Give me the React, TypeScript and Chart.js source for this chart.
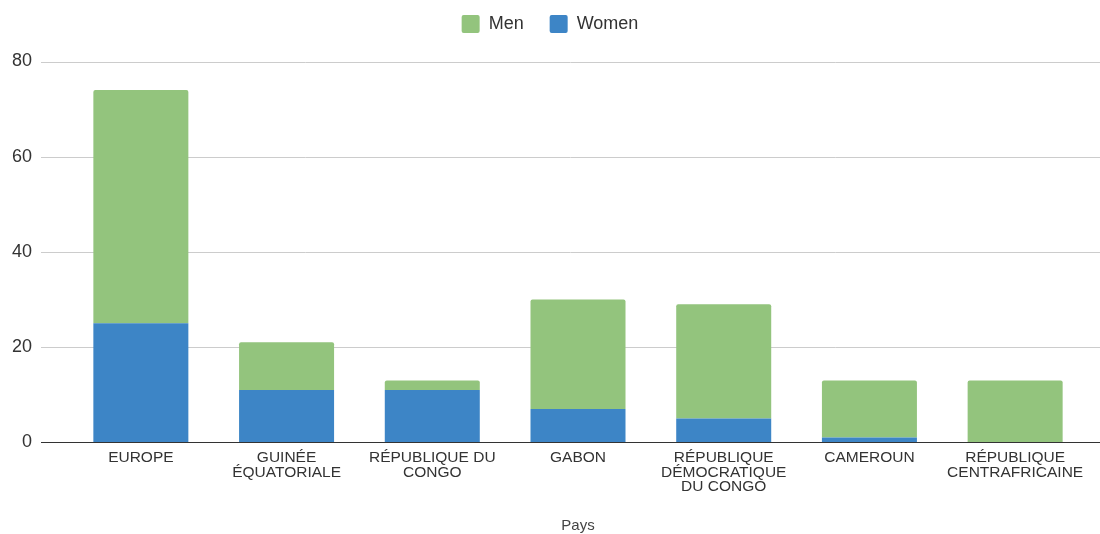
import React, { useEffect, useRef } from 'react';
import { Chart, registerables } from 'chart.js';

Chart.register(...registerables);

const categories: string[][] = [
  ['EUROPE'],
  ['GUINÉE', 'ÉQUATORIALE'],
  ['RÉPUBLIQUE DU', 'CONGO'],
  ['GABON'],
  ['RÉPUBLIQUE', 'DÉMOCRATIQUE', 'DU CONGO'],
  ['CAMEROUN'],
  ['RÉPUBLIQUE', 'CENTRAFRICAINE'],
];
const womenValues = [25, 11, 11, 7, 5, 1, 0];
const menValues = [49, 10, 2, 23, 24, 12, 13];
const yMin = 0;
const yMax = 80;
const yStep = 20;
const womenLabel = 'Women';
const menLabel = 'Men';
const xAxisTitle = 'Pays';

const FONT = "'Liberation Sans', Arial, sans-serif";

const legendSpacing = {
  id: 'legendSpacing',
  beforeInit(chart: any) {
    const legend = chart.legend;
    if (!legend) return;
    const origFit = legend.fit;
    legend.fit = function () {
      origFit.call(this);
      this.height += 18.5;
    };
  },
};

const wideGrid = {
  id: 'wideGrid',
  beforeDatasetsDraw(chart: any) {
    const { ctx, chartArea } = chart;
    const y = chart.scales.y;
    ctx.save();
    ctx.strokeStyle = '#cccccc';
    ctx.lineWidth = 1;
    y.ticks.forEach((t: any) => {
      if (t.value === 0) return;
      const py = Math.round(y.getPixelForValue(t.value)) + 0.5;
      ctx.beginPath();
      ctx.moveTo(chartArea.left - 27, py);
      ctx.lineTo(chart.width, py);
      ctx.stroke();
    });
    ctx.restore();
  },
  afterDatasetsDraw(chart: any) {
    const { ctx, chartArea } = chart;
    const y = chart.scales.y;
    const py = Math.round(y.getPixelForValue(0)) + 0.5;
    ctx.save();
    ctx.strokeStyle = '#333333';
    ctx.lineWidth = 1.2;
    ctx.beginPath();
    ctx.moveTo(chartArea.left - 27, py);
    ctx.lineTo(chart.width, py);
    ctx.stroke();
    ctx.restore();
  },
};

export default function App() {
  const ref = useRef<HTMLCanvasElement | null>(null);

  useEffect(() => {
    document.body.style.margin = '0';
    const canvas = ref.current;
    if (!canvas) return;
    const chart = new Chart(canvas, {
      type: 'bar',
      data: {
        labels: categories,
        datasets: [
          {
            label: womenLabel,
            data: womenValues,
            backgroundColor: '#3d85c6',
            borderWidth: 0,
            borderRadius: 0,
            categoryPercentage: 1,
            barPercentage: 0.652,
          },
          {
            label: menLabel,
            data: menValues,
            backgroundColor: '#93c47d',
            borderWidth: 0,
            borderRadius: { topLeft: 2, topRight: 2, bottomLeft: 0, bottomRight: 0 },
            borderSkipped: 'bottom',
            categoryPercentage: 1,
            barPercentage: 0.652,
          },
        ],
      },
      options: {
        animation: false,
        responsive: false,
        maintainAspectRatio: false,
        layout: { padding: { left: 12, right: 12, top: -11, bottom: 0 } },
        plugins: {
          legend: {
            position: 'top',
            reverse: true,
            labels: {
              boxWidth: 18,
              boxHeight: 18,
              padding: 26,
              color: '#333333',
              useBorderRadius: true,
              borderRadius: 2,
              font: { family: FONT, size: 18 },
            },
          },
          tooltip: { enabled: false },
        },
        scales: {
          x: {
            stacked: true,
            grid: { display: false, drawTicks: false },
            border: { display: false },
            ticks: {
              color: '#333333',
              padding: 8.5,
              autoSkip: false,
              maxRotation: 0,
              font: { family: FONT, size: 15.5, lineHeight: 0.93 },
            },
            title: {
              display: true,
              text: xAxisTitle,
              color: '#444444',
              font: { family: FONT, size: 15, lineHeight: 1.1 },
              padding: { top: 15, bottom: 0 },
            },
          },
          y: {
            stacked: true,
            min: yMin,
            max: yMax,
            grid: { display: false, drawTicks: false },
            border: { display: false },
            afterFit(scale: any) {
              scale.width = 56;
            },
            ticks: {
              stepSize: yStep,
              color: '#333333',
              padding: 36,
              font: { family: FONT, size: 18 },
            },
          },
        },
      },
      plugins: [legendSpacing, wideGrid],
    });
    return () => chart.destroy();
  }, []);

  return <canvas ref={ref} width={1100} height={534} style={{ display: 'block' }} />;
}
